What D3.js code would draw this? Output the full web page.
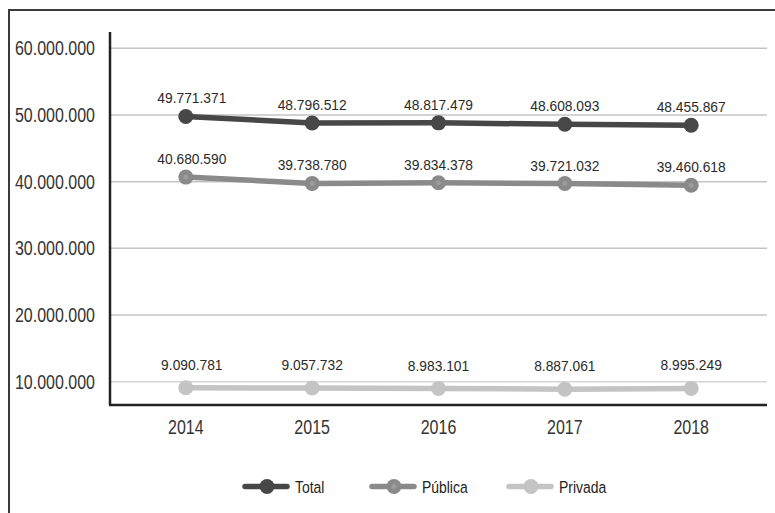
<!DOCTYPE html>
<html><head><meta charset="utf-8">
<script src="https://cdn.jsdelivr.net/npm/d3@7"></script>
<style>
html,body{margin:0;padding:0;background:#fff;}
svg{display:block;}
</style></head>
<body><svg id="c" width="775" height="513"></svg>
<script>
const years = ["2014","2015","2016","2017","2018"];
const total = [49771371, 48796512, 48817479, 48608093, 48455867];
const publica = [40680590, 39738780, 39834378, 39721032, 39460618];
const privada = [9090781, 9057732, 8983101, 8887061, 8995249];
const yTicks = [10000000, 20000000, 30000000, 40000000, 50000000, 60000000];
const seriesNames = ["Total", "Pública", "Privada"];
const seriesColors = ["#474747", "#8a8a8a", "#c4c4c4"];

const font = "'Liberation Sans',Arial,Helvetica,sans-serif";
const fmt = v => d3.format(",")(v).replace(/,/g, ".");
const SQ = 0.82; // horizontal condensation for the narrow face

const svg = d3.select("#c");
// outer frame (top and left visible)
svg.append("path").attr("d","M9,513 V10 H775").attr("fill","none").attr("stroke","#3a3a3a").attr("stroke-width",2);

const x0 = 110, x1 = 767, yTop = 32, yBot = 405;
const x = d3.scalePoint().domain(years).range([x0, x1]).padding(0.6);
const y = d3.scaleLinear().domain([6510000, 62440000]).range([yBot, yTop]);

function narrowText(sel, data, px, py, txt, size, anchor, fill) {
  return sel.selectAll(null).data(data).join("text")
    .attr("transform", (d, i) => `translate(${px(d, i)},${py(d, i)}) scale(${SQ},1)`)
    .attr("text-anchor", anchor).attr("font-family", font).attr("font-size", size)
    .attr("fill", fill).text(txt);
}

// gridlines
svg.append("g").selectAll("line").data(yTicks).join("line")
  .attr("x1", x0).attr("x2", x1)
  .attr("y1", d => y(d)).attr("y2", d => y(d))
  .attr("stroke", d => d === 10000000 ? "#d6d6d6" : "#c4c4c4").attr("stroke-width", 1.5);

// y axis (scale ticks; labels drawn condensed)
const ya = svg.append("g").attr("transform", `translate(${x0},0)`)
  .call(d3.axisLeft(y).tickValues(yTicks).tickSize(0).tickFormat(""));
ya.select(".domain").remove();
narrowText(svg.append("g"), yTicks, () => 95, d => y(d) + 7, d => fmt(d), 19.5, "end", "#333");
svg.append("line").attr("x1", x0).attr("x2", x0).attr("y1", yTop).attr("y2", yBot)
  .attr("stroke", "#222").attr("stroke-width", 2.5);

// x axis
const xa = svg.append("g").attr("transform", `translate(0,${yBot})`)
  .call(d3.axisBottom(x).tickSize(0).tickFormat(""));
xa.select(".domain").remove();
narrowText(svg.append("g"), years, d => x(d), () => 433.5, d => d, 19.5, "middle", "#333");
svg.append("line").attr("x1", x0 - 1).attr("x2", x1).attr("y1", yBot).attr("y2", yBot)
  .attr("stroke", "#222").attr("stroke-width", 2.5);

const allSeries = [total, publica, privada];
const labelOffset = [13, 13, 18];
const line = d3.line().x((d, i) => x(years[i])).y(d => y(d));

allSeries.forEach((vals, s) => {
  const g = svg.append("g");
  g.append("path").datum(vals).attr("d", line).attr("fill", "none")
    .attr("stroke", seriesColors[s]).attr("stroke-width", 5.5).attr("stroke-linejoin", "round");
  g.selectAll("circle.m").data(vals).join("circle").attr("class","m")
    .attr("cx", (d, i) => x(years[i])).attr("cy", d => y(d)).attr("r", 7.5)
    .attr("fill", seriesColors[s]);
  if (s === 1) {
    g.selectAll("circle.in").data(vals).join("circle").attr("class","in")
      .attr("cx", (d, i) => x(years[i])).attr("cy", d => y(d)).attr("r", 2.5)
      .attr("fill", "#9c9c9c");
  }
  g.selectAll("text").data(vals).join("text")
    .attr("transform", (d, i) => `translate(${x(years[i]) + (i === 0 ? 6 : 0)},${y(d) - labelOffset[s]}) scale(0.92,1)`)
    .attr("text-anchor", "middle").attr("font-family", font).attr("font-size", 15)
    .attr("fill", "#2a2a2a").text(d => fmt(d));
});

// legend
const legX = [245, 372, 509];
const ly = 486.5;
seriesNames.forEach((name, s) => {
  const g = svg.append("g").attr("transform", `translate(${legX[s]},${ly})`);
  g.append("line").attr("x1", 0).attr("x2", 42).attr("y1", 0).attr("y2", 0)
    .attr("stroke", seriesColors[s]).attr("stroke-width", 5.5).attr("stroke-linecap", "round");
  g.append("circle").attr("cx", 22).attr("cy", 0).attr("r", 7.5).attr("fill", seriesColors[s]);
  if (s === 1) g.append("circle").attr("cx", 22).attr("cy", 0).attr("r", 2.5).attr("fill", "#9c9c9c");
  g.append("text").attr("transform", `translate(50,6) scale(${SQ},1)`)
    .attr("font-family", font).attr("font-size", 17).attr("fill", "#222").text(name);
});
</script></body></html>
